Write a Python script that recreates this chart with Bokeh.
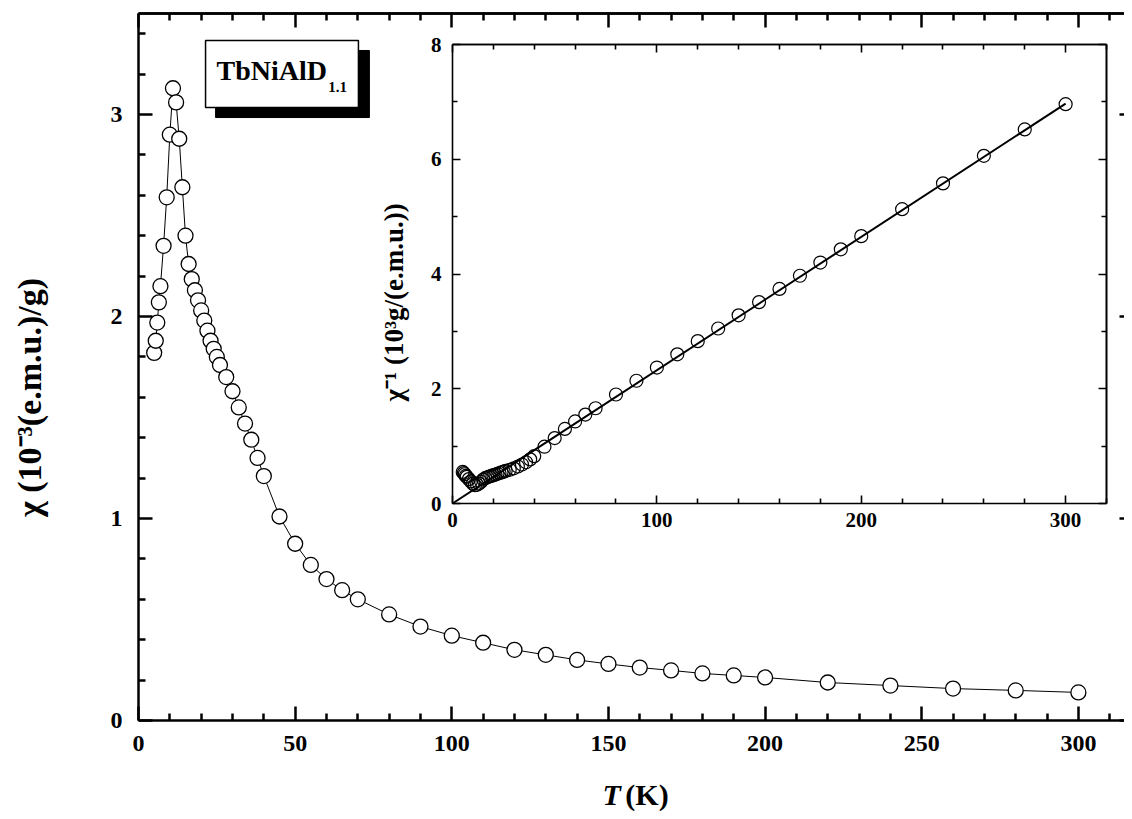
import math
from bokeh.plotting import figure
from bokeh.models import Range1d, LinearAxis, FixedTicker, Label, BoxAnnotation
from bokeh.embed import file_html
from bokeh.resources import INLINE

# ---------------- data ----------------
T_main = [5, 5.5, 6, 6.5, 7, 8, 9, 10, 11, 12, 13, 14, 15, 16, 17, 18, 19, 20,
          21, 22, 23, 24, 25, 26, 28, 30, 32, 34, 36, 38, 40, 45, 50, 55, 60, 65,
          70, 80, 90, 100, 110, 120, 130, 140, 150, 160, 170, 180, 190, 200, 220,
          240, 260, 280, 300]
chi_main = [1.82, 1.88, 1.97, 2.07, 2.15, 2.35, 2.59, 2.90, 3.13, 3.06, 2.88, 2.64,
            2.40, 2.26, 2.185, 2.13, 2.08, 2.03, 1.98, 1.93, 1.88, 1.84, 1.80, 1.76,
            1.70, 1.63, 1.55, 1.47, 1.39, 1.30, 1.21, 1.01, 0.875, 0.77, 0.70, 0.645,
            0.60, 0.525, 0.465, 0.42, 0.385, 0.35, 0.325, 0.30, 0.28, 0.262, 0.248,
            0.233, 0.223, 0.213, 0.188, 0.173, 0.158, 0.149, 0.139]

T_inset = [5, 5.5, 6, 6.5, 7, 8, 9, 10, 11, 12, 13, 14, 15, 16, 17, 18, 19, 20,
           21, 22, 23, 24, 25, 26, 28, 30, 32, 34, 36, 38, 40, 45, 50, 55, 60, 65,
           70, 80, 90, 100, 110, 120, 130, 140, 150, 160, 170, 180, 190, 200, 220,
           240, 260, 280, 300]
inv_chi = [0.55, 0.53, 0.51, 0.48, 0.465, 0.425, 0.386, 0.345, 0.32, 0.327, 0.347,
           0.379, 0.417, 0.442, 0.458, 0.469, 0.481, 0.493, 0.505, 0.518, 0.532,
           0.543, 0.556, 0.568, 0.588, 0.613, 0.645, 0.680, 0.719, 0.769, 0.826,
           0.99, 1.14, 1.30, 1.43, 1.55, 1.66, 1.90, 2.14, 2.37, 2.60, 2.83, 3.05,
           3.28, 3.51, 3.74, 3.97, 4.20, 4.43, 4.66, 5.13, 5.58, 6.06, 6.52, 6.96]

fit_T = [0, 300]
fit_inv = [0, 6.97]

main_x_ticks = [0, 50, 100, 150, 200, 250, 300]
main_x_minor = [10, 20, 30, 40, 60, 70, 80, 90, 110, 120, 130, 140, 160, 170, 180,
                190, 210, 220, 230, 240, 260, 270, 280, 290, 310]
main_y_ticks = [0, 1, 2, 3]
main_y_minor = [0.2, 0.4, 0.6, 0.8, 1.2, 1.4, 1.6, 1.8, 2.2, 2.4, 2.6, 2.8, 3.2, 3.4]
inset_x_ticks = [0, 100, 200, 300]
inset_x_minor = [20, 40, 60, 80, 120, 140, 160, 180, 220, 240, 260, 280, 320]
inset_y_ticks = [0, 2, 4, 6, 8]
inset_y_minor = [1, 3, 5, 7]

x_title_italic = "T"
x_title_rest = "(K)"
y_title = "χ (10⁻³(e.m.u.)/g)"
inset_y_title = "χ⁻¹ (10³g/(e.m.u.))"
sample_name = "TbNiAlD"
sample_sub = "1.1"

FONT = "Liberation Serif"

# ---------------- figure ----------------
# The frame fills the whole canvas; the axes are pinned with fixed_location so
# that every title can be drawn as a Label inside the frame.
X_MAX = 314.72
Y_MAX = 3.5
p = figure(width=1124, height=811,
           x_range=Range1d(-44.05, X_MAX), y_range=Range1d(-0.4505, 3.5644),
           output_backend="svg", toolbar_location=None,
           x_axis_type=None, y_axis_type=None,
           min_border_left=0, min_border_right=0, min_border_top=0, min_border_bottom=0)
p.outline_line_color = None
p.background_fill_color = "white"
p.border_fill_color = "white"

# inset ranges mapped into a sub-region of the frame
p.extra_x_ranges = {"ix": Range1d(-221.16, 328.81)}
p.extra_y_ranges = {"iy": Range1d(-5.368, 8.767)}


def labeled_axis(side, ticks, minor, major_in, minor_in, lw, font_size, standoff,
                 fixed, bounds, **rn):
    ax = LinearAxis(ticker=FixedTicker(ticks=ticks, minor_ticks=minor),
                    fixed_location=fixed, bounds=bounds, **rn)
    ax.major_tick_in = major_in
    ax.major_tick_out = 0
    ax.minor_tick_in = minor_in
    ax.minor_tick_out = 0
    ax.axis_line_width = lw
    ax.major_tick_line_width = lw
    ax.minor_tick_line_width = lw
    ax.axis_line_color = "black"
    ax.major_tick_line_color = "black"
    ax.minor_tick_line_color = "black"
    ax.major_label_text_font = FONT
    ax.major_label_text_font_style = "bold"
    ax.major_label_text_color = "black"
    ax.major_label_text_font_size = font_size
    ax.major_label_standoff = standoff
    p.add_layout(ax, side)
    return ax


def tick_axis(side, positions, length, lw, fixed, bounds, line=True, **rn):
    """Axis with ticks only (no tick labels): ticks given as 'minor' positions."""
    ax = LinearAxis(ticker=FixedTicker(ticks=[], minor_ticks=positions),
                    fixed_location=fixed, bounds=bounds, **rn)
    ax.major_tick_in = 0
    ax.major_tick_out = 0
    ax.minor_tick_in = length
    ax.minor_tick_out = 0
    ax.minor_tick_line_width = lw
    ax.minor_tick_line_color = "black"
    ax.axis_line_width = lw
    ax.axis_line_color = "black" if line else None
    p.add_layout(ax, side)
    return ax


# main axes
labeled_axis("below", main_x_ticks, main_x_minor, 14, 7, 2.5, "24px", 15, 0, (0, X_MAX))
labeled_axis("left", main_y_ticks, main_y_minor, 14, 7, 2.5, "24px", 16, 0, (0, Y_MAX))
tick_axis("above", main_x_ticks, 14, 2.5, Y_MAX, (0, X_MAX))
tick_axis("above", main_x_minor, 7, 2.5, Y_MAX, (0, X_MAX))
tick_axis("right", main_y_ticks, 5, 2.5, X_MAX, (0, Y_MAX), line=False)

# inset axes
rn = dict(x_range_name="ix", y_range_name="iy")
labeled_axis("below", inset_x_ticks, inset_x_minor, 8, 5, 1.6, "21px", 9, 0, (0, 320), **rn)
labeled_axis("left", inset_y_ticks, inset_y_minor, 8, 5, 1.6, "21px", 11, 0, (0, 8), **rn)
tick_axis("above", inset_x_ticks, 8, 1.6, 8, (0, 320), **rn)
tick_axis("above", inset_x_minor, 5, 1.6, 8, (0, 320), **rn)
tick_axis("right", inset_y_ticks, 8, 1.6, 320, (0, 8), **rn)
tick_axis("right", inset_y_minor, 5, 1.6, 320, (0, 8), **rn)

# ---------------- main data ----------------
p.line(T_main, chi_main, line_color="black", line_width=1)
p.scatter(T_main, chi_main, marker="circle", size=15, fill_color="white",
          line_color="black", line_width=1.3)

# ---------------- inset data ----------------
p.line(fit_T, fit_inv, x_range_name="ix", y_range_name="iy", line_color="black", line_width=2)
p.scatter(T_inset, inv_chi, x_range_name="ix", y_range_name="iy", marker="circle", size=13,
          fill_color=None, line_color="black", line_width=1.2)

# ---------------- sample-name box ----------------
p.add_layout(BoxAnnotation(left=24.6, right=73.7, bottom=2.985, top=3.317,
                           fill_color="black", fill_alpha=1.0, line_color="black", line_alpha=1.0))
p.add_layout(BoxAnnotation(left=21.4, right=70.2, bottom=3.035, top=3.366,
                           fill_color="white", fill_alpha=1.0, line_color="black",
                           line_alpha=1.0, line_width=1.5))
p.add_layout(Label(x=24.9, y=3.218, text=sample_name, text_font=FONT, text_color="black",
                   text_font_style="bold", text_font_size="28px", text_baseline="middle"))
p.add_layout(Label(x=60.6, y=3.136, text=sample_sub, text_font=FONT, text_color="black",
                   text_font_style="bold", text_font_size="15px", text_baseline="middle"))

# ---------------- axis titles ----------------
p.add_layout(Label(x=148.1, y=-0.365, text=x_title_italic, text_font=FONT, text_color="black",
                   text_font_style="bold italic", text_font_size="30px",
                   text_baseline="middle"))
p.add_layout(Label(x=155.4, y=-0.365, text=x_title_rest, text_font=FONT, text_color="black",
                   text_font_style="bold", text_font_size="30px", text_baseline="middle"))
p.add_layout(Label(x=-34.8, y=1.599, text=y_title, angle=math.pi / 2, text_font=FONT,
                   text_color="black", text_font_style="bold", text_font_size="34px",
                   text_align="center", text_baseline="middle"))
p.add_layout(Label(x=81.7, y=2.07, text=inset_y_title, angle=math.pi / 2, text_font=FONT,
                   text_color="black", text_font_style="bold", text_font_size="27px",
                   text_align="center", text_baseline="middle"))

open("out.html", "w").write(file_html(p, INLINE))
